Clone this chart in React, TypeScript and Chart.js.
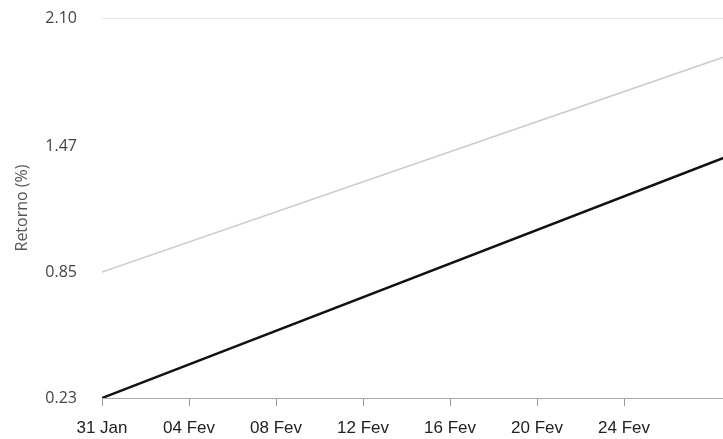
import React, { useEffect, useRef } from "react";
import { Chart, registerables } from "chart.js";

Chart.register(...registerables);

// Day offsets from 31 Jan for the line endpoints (lines run past the visible area)
const pointDays = [0, 30];
const portfolioValues = [0.23, 1.47];
const benchmarkValues = [0.85, 1.96];

const xTickDays = [0, 4, 8, 12, 16, 20, 24];
const xTickLabels = ["31 Jan", "04 Fev", "08 Fev", "12 Fev", "16 Fev", "20 Fev", "24 Fev"];
const yTickValues = [0.23, 0.85, 1.47, 2.1];

export default function App() {
  const ref = useRef<HTMLCanvasElement | null>(null);

  useEffect(() => {
    document.body.style.margin = "0";
    if (!ref.current) return;
    const chart = new Chart(ref.current, {
      type: "line",
      data: {
        datasets: [
          {
            label: "Benchmark",
            data: pointDays.map((d, i) => ({ x: d, y: benchmarkValues[i] })),
            borderColor: "#cccccc",
            borderWidth: 1.5,
            pointRadius: 0,
            tension: 0,
          },
          {
            label: "Carteira",
            data: pointDays.map((d, i) => ({ x: d, y: portfolioValues[i] })),
            borderColor: "#111111",
            borderWidth: 2.5,
            pointRadius: 0,
            tension: 0,
          },
        ],
      },
      options: {
        responsive: false,
        animation: false,
        layout: { padding: { top: 18, left: 0, right: 0, bottom: 0 } },
        plugins: { legend: { display: false }, tooltip: { enabled: false } },
        scales: {
          x: {
            type: "linear",
            min: 0,
            max: 28.55,
            afterBuildTicks: (s: any) => {
              s.ticks = xTickDays.map((v) => ({ value: v }));
            },
            afterFit: (s: any) => {
              s.height = 41;
              s.paddingLeft = 0;
              s.paddingRight = 0;
            },
            ticks: {
              autoSkip: false,
              maxRotation: 0,
              padding: 12,
              color: "#222",
              font: { family: "Liberation Sans, Arial", size: 17 },
              callback: (v: any) => xTickLabels[xTickDays.indexOf(Number(v))] ?? "",
            },
            grid: { drawOnChartArea: false, color: "#999", tickLength: 8 },
            border: { color: "#aaa", width: 1 },
          },
          y: {
            min: 0.23,
            max: 2.1,
            afterBuildTicks: (s: any) => {
              s.ticks = yTickValues.map((v) => ({ value: v }));
            },
            afterFit: (s: any) => {
              s.width = 102;
              s.paddingTop = 0;
              s.paddingBottom = 0;
            },
            ticks: {
              padding: 25,
              color: "#444",
              font: { family: "Open Sans", size: 16 },
              callback: (v: any) => Number(v).toFixed(2),
            },
            grid: {
              drawTicks: false,
              color: (c: any) => (c.tick && c.tick.value === 2.1 ? "#e6e6e6" : "rgba(0,0,0,0)"),
            },
            border: { display: false },
            title: {
              display: true,
              text: "Retorno (%)",
              color: "#555",
              padding: { top: 13, bottom: 0 },
              font: { family: "Open Sans", size: 16 },
            },
          },
        },
      },
    });
    return () => chart.destroy();
  }, []);

  return (
    <div style={{ width: 723, height: 439, overflow: "hidden" }}>
      <canvas ref={ref} width={723} height={439} style={{ display: "block" }} />
    </div>
  );
}
